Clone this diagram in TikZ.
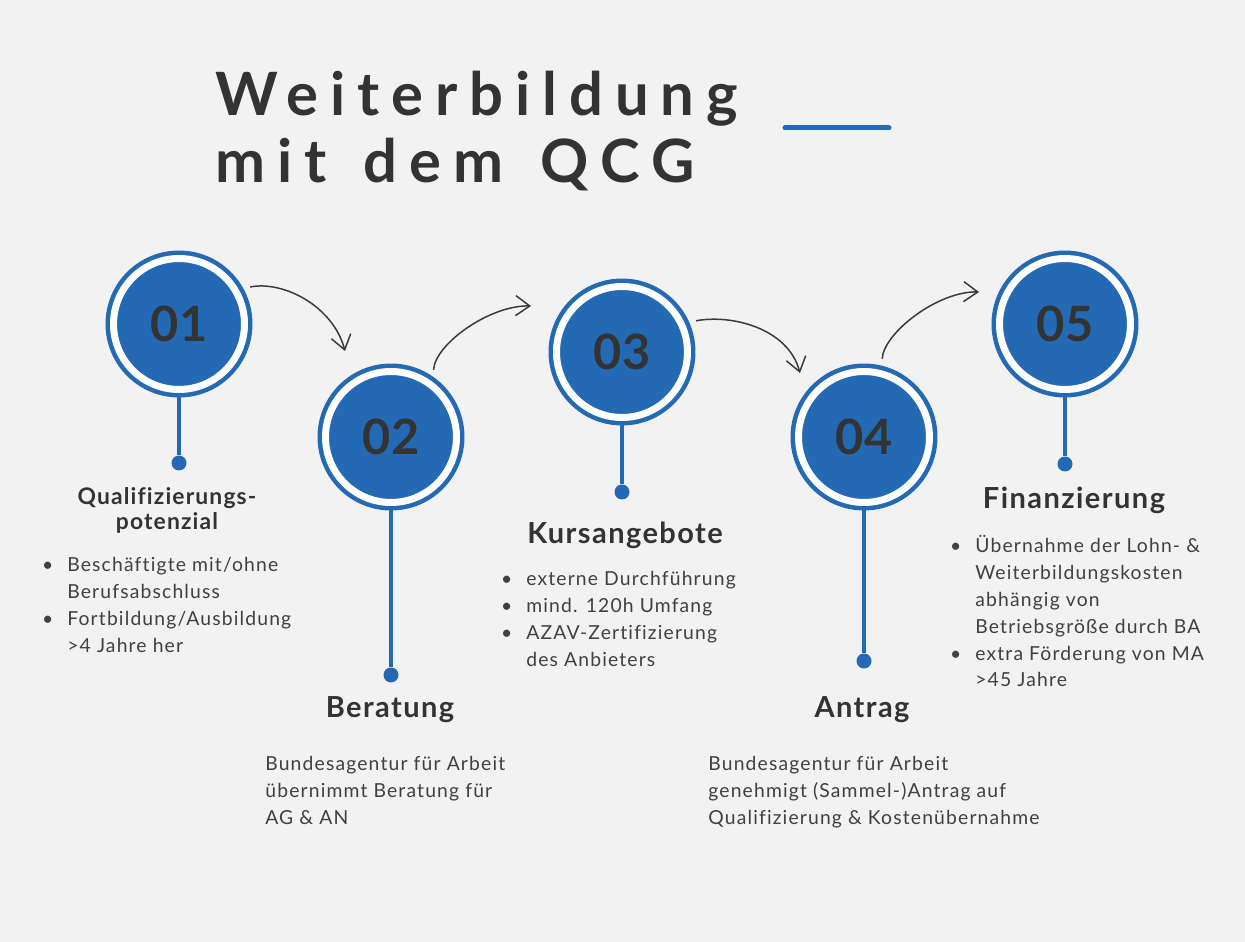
\documentclass[tikz,border=0pt]{standalone}
\usepackage{fontspec}
\setmainfont{Lato}
\newfontfamily\titlefont[LetterSpace=20,WordSpace=1.4]{Lato}
\newfontfamily\headfont[LetterSpace=5,Ligatures=NoCommon]{Lato}
\newfontfamily\bodyfont[LetterSpace=6,Ligatures=NoCommon]{Lato}
\usetikzlibrary{arrows.meta}

\definecolor{qblue}{HTML}{2369B3}
\definecolor{bgray}{HTML}{F2F2F2}
\definecolor{ink}{HTML}{333333}
\definecolor{softink}{HTML}{404040}
\definecolor{arrowgray}{HTML}{3A3A3A}

\newcommand{\bul}{\llap{\textbullet\hspace{8pt}}}

\tikzset{
  qcircle/.style={circle, fill=qblue, draw=qblue, line width=0.09cm, double=white,
    double distance=0.14cm, minimum size=2.62cm, outer sep=0.16cm, inner sep=0pt,
    text=ink, font=\fontsize{27.7}{30}\selectfont\bfseries},
  tipdot/.style={circle, fill=qblue, minimum size=0.3cm, inner sep=0pt},
  stem/.style={qblue, line width=0.08cm},
  heading/.style={text=ink, font=\headfont\fontsize{16.5}{20}\selectfont\bfseries, inner sep=0pt},
  body/.style={text=softink, font=\bodyfont\fontsize{11}{15.3}\selectfont, align=left,
    anchor=north west, inner sep=0pt},
  flow/.style={arrowgray, line width=0.85pt, shorten <=0.14cm,
    -{Straight Barb[length=0.28cm,width=0.4cm]}}
}

\begin{document}
\begin{tikzpicture}[x=0.02cm,y=-0.02cm]
  % background
  \fill[bgray] (0,0) rectangle (1245,942);
  \useasboundingbox (0,0) rectangle (1245,942);
  % title
  \node[anchor=base west, inner sep=0pt, text=ink, font=\titlefont\fontsize{34}{40}\selectfont\bfseries] (title1) at (215,116) {Weiterbildung};
  \node[anchor=base west, inner sep=0pt, text=ink, font=\titlefont\fontsize{34}{40}\selectfont\bfseries] (title2) at (215,183) {mit dem QCG};
  \draw[qblue, line width=0.1cm, line cap=round] (785,128) -- (889,128);
  % steps
  \foreach \n/\x/\y in {1/179/324, 2/391/437, 3/622/352, 4/864/437, 5/1065/324}
    \node[qcircle] (c\n) at (\x,\y) {0\n};
  \foreach \n/\x/\y in {1/179/463, 2/391/675, 3/622/492, 4/864/661, 5/1065/464}
    {\node[tipdot] (d\n) at (\x,\y) {};
     \draw[stem] (c\n) -- (d\n);}
  % arrows
  \coordinate (t1) at (345,351);
  \coordinate (t2) at (531,306);
  \coordinate (t3) at (800,373);
  \coordinate (t4) at (979,292);
  \draw[flow] (c1.29) .. controls +(40,-8) and +(-12,-45) .. (t1);
  \draw[flow] (c2.55) .. controls +(2,-33) and +(-41,-1) .. (t2);
  \draw[flow] (c3.24) .. controls +(42,-8) and +(-12,-45) .. (t3);
  \draw[flow] (c4.76) .. controls +(2,-33) and +(-41,-1) .. (t4);
  % headings
  \node[heading, font=\headfont\fontsize{13}{14.2}\selectfont\bfseries, align=center, anchor=north] (h1) at (167,487) {Qualifizierungs-\\potenzial};
  \node[heading, anchor=base] (h2) at (390,717) {Beratung};
  \node[heading, anchor=base] (h3) at (625,543) {Kursangebote};
  \node[heading, anchor=base] (h4) at (862,717) {Antrag};
  \node[heading, anchor=base] (h5) at (1074,509) {Finanzierung};
  % texts
  \node[body] (b1) at (67,557) {\bul Beschäftigte mit/ohne\\Berufsabschluss\\\bul Fortbildung/Ausbildung\\>4 Jahre her};
  \node[body] (b2) at (265,756) {Bundesagentur für Arbeit\\übernimmt Beratung für\\AG \& AN};
  \node[body] (b3) at (526,571) {\bul externe Durchführung\\\bul mind. 120h Umfang\\\bul AZAV-Zertifizierung\\des Anbieters};
  \node[body] (b4) at (708,756) {Bundesagentur für Arbeit\\genehmigt (Sammel-)Antrag auf\\Qualifizierung \& Kostenübernahme};
  \node[body] (b5) at (975,535) {\bul Übernahme der Lohn- \&\\Weiterbildungskosten\\abhängig von\\Betriebsgröße durch BA\\\bul extra Förderung von MA\\>45 Jahre};
\end{tikzpicture}
\end{document}
